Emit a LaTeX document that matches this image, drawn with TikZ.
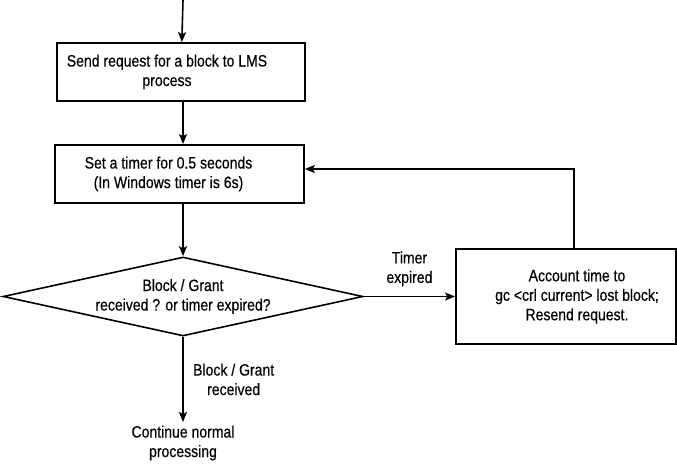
\documentclass[tikz,border=0pt]{standalone}
\usepackage{fontspec}
\setmainfont[FakeStretch=0.85, FakeBold=0.4]{Liberation Sans}
\usetikzlibrary{arrows.meta, positioning, calc, shapes.geometric}

\begin{document}
\begin{tikzpicture}[
    x=1pt, y=-1pt,
    >={Stealth[length=10pt, width=8pt, inset=2pt]},
    txt/.style={font=\fontsize{16.5}{19.5}\selectfont, align=center, text=black},
    box/.style={
        txt, draw=black, line width=1.8pt, fill=white,
        inner sep=0pt
    },
    decision/.style={
        txt, diamond, aspect=4.55, draw=black, line width=1.6pt, fill=white,
        minimum width=360pt, minimum height=79pt, inner sep=0pt
    },
    arrow/.style={->, line width=1.6pt, color=black},
    label/.style={txt}
]

% fixed frame of the picture
\useasboundingbox (0,0) rectangle (677,463);

% === Main flow (top to bottom) ===

% entry point
\coordinate (entry) at (183,0);

% send request
\node[box, minimum width=248pt, minimum height=58pt] (send) at (181,72) {
    \hspace*{-28pt}Send request for a block to LMS\\
    \hspace*{-28pt}process
};

% timer
\node[box, minimum width=249pt, minimum height=58pt] (timer) at (179.5,174) {
    \hspace*{-22pt}Set a timer for 0.5 seconds\\
    \hspace*{-22pt}(In Windows timer is 6s)
};

% decision
\node[decision] (decide) at (183,296.5) {
    Block / Grant\\
    received ? or timer expired?
};

% account time (right)
\node[box, minimum width=220pt, minimum height=95pt] (account) at (566,296.5) {
    \hspace*{22pt}Account time to\\
    \hspace*{22pt}gc <crl current> lost block;\\
    \hspace*{22pt}Resend request.
};

% continue (bottom)
\node[txt] (cont) at (183,443) {
    Continue normal\\
    processing
};

% === Arrows ===

\draw[arrow] (entry) -- (send);
\draw[arrow] (send.south -| entry) -- (timer.north -| entry);
\draw[arrow] (timer.south -| entry) -- (decide.north);

% timer expired branch
\draw[arrow] (decide.east) -- (account.west)
    node[label, midway, above=6pt] {Timer\\expired};

% resend loop back to timer
\draw[arrow] ($(account.north)+(8,0)$) |- ($(timer.east)+(0,-5)$);

% block received branch
\draw[arrow] (decide.south) -- (cont.north)
    node[label, midway, right=6pt] {Block / Grant\\received};

\end{tikzpicture}
\end{document}
